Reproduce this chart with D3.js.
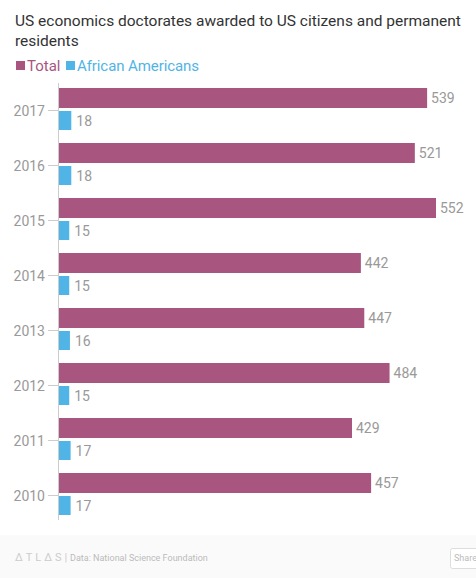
<!DOCTYPE html>
<html><head><meta charset="utf-8">
<script src="https://cdn.jsdelivr.net/npm/d3@7"></script>
<style>body{margin:0;background:#fff;font-family:Roboto,"Noto Sans",sans-serif}</style>
</head><body><svg id="c" width="476" height="578"></svg>
<script>
const years = ["2017","2016","2015","2014","2013","2012","2011","2010"];
const total = [539,521,552,442,447,484,429,457];
const african = [18,18,15,15,16,15,17,17];
const colors = {total:"#a8567f", aa:"#50b4e6"};

const svg = d3.select("#c");
svg.append("rect").attr("width",476).attr("height",578).attr("fill","#fff");
svg.append("rect").attr("y",535).attr("width",476).attr("height",43).attr("fill","#fafafa");
svg.append("text").attr("x",15).attr("y",26).attr("font-size",15.5).attr("fill","#333").text("US economics doctorates awarded to US citizens and permanent");
svg.append("text").attr("x",15).attr("y",46).attr("font-size",15.5).attr("fill","#333").text("residents");
svg.append("rect").attr("x",16).attr("y",61).attr("width",9).attr("height",9).attr("fill",colors.total);
svg.append("text").attr("x",27).attr("y",71).attr("font-size",15).attr("fill",colors.total).text("Total");
svg.append("rect").attr("x",66).attr("y",61).attr("width",9).attr("height",9).attr("fill",colors.aa);
svg.append("text").attr("x",77).attr("y",71).attr("font-size",15).attr("fill",colors.aa).attr("textLength",122).text("African Americans");

const x = d3.scaleLinear().domain([0,552]).range([59,436]);
const y = d3.scaleBand().domain(years).range([83,523]);
const g = svg.append("g");
g.append("line").attr("x1",58.5).attr("x2",58.5).attr("y1",83).attr("y2",520).attr("stroke","#ccc");
years.forEach((yr,i)=>{
  const y0 = y(yr)+5;
  g.append("line").attr("x1",48).attr("x2",58).attr("y1",y0+22.5).attr("y2",y0+22.5).attr("stroke","#ccc");
  g.append("text").attr("x",45).attr("y",y0+27.5).attr("text-anchor","end").attr("font-size",14).attr("fill","#999").text(yr);
  g.append("rect").attr("x",x(0)).attr("y",y0).attr("width",x(total[i])-x(0)).attr("height",20).attr("fill",colors.total);
  g.append("text").attr("x",x(total[i])+4).attr("y",y0+15).attr("font-size",14).attr("fill","#999").text(total[i]);
  g.append("rect").attr("x",x(0)).attr("y",y0+23).attr("width",x(african[i])-x(0)).attr("height",19).attr("fill",colors.aa);
  g.append("text").attr("x",x(african[i])+5).attr("y",y0+38).attr("font-size",14).attr("fill","#999").text(african[i]);
});
svg.append("text").attr("x",15).attr("y",561).attr("font-size",11).attr("fill","#ccc").attr("letter-spacing",3).text("ΔTLΔS|");
svg.append("text").attr("x",70).attr("y",561).attr("font-size",9).attr("fill","#bbb").text("Data:  National Science Foundation");
svg.append("rect").attr("x",450.5).attr("y",548.5).attr("width",30).attr("height",20).attr("rx",2).attr("fill","#fff").attr("stroke","#ddd");
svg.append("text").attr("x",454).attr("y",561).attr("font-size",9).attr("fill","#bbb").text("Share");
</script></body></html>
